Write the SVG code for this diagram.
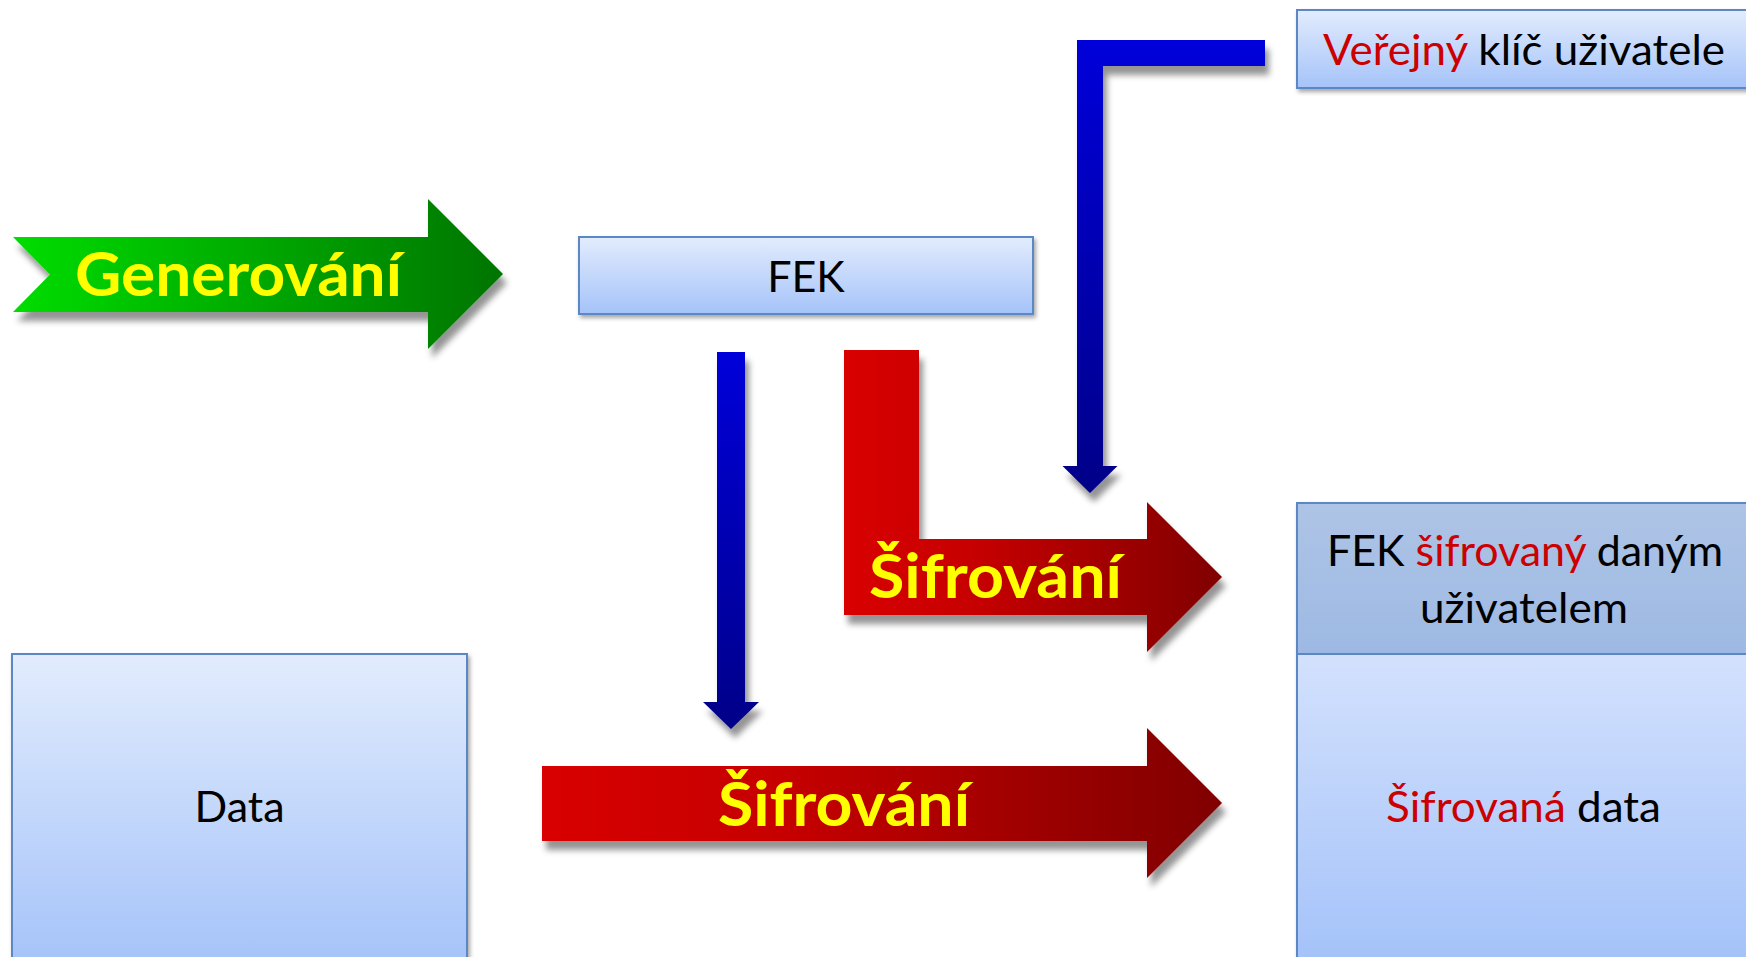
<svg xmlns="http://www.w3.org/2000/svg" width="1746" height="957" viewBox="0 0 1746 957">
<style>
.box{stroke:#5B87C5;stroke-width:2}
.t{font-family:Lato,"Open Sans","Liberation Sans",sans-serif;font-size:43px;fill:#000}
.r{fill:#CC0000}
.b{font-family:Lato,"Open Sans","Liberation Sans",sans-serif;font-weight:bold;font-size:61px;fill:#FFFF00}
</style>
<defs>
<linearGradient id="gBox" x1="0" y1="0" x2="0" y2="1"><stop offset="0" stop-color="#E2ECFD"/><stop offset="1" stop-color="#A5C3F9"/></linearGradient>
<linearGradient id="gLow" x1="0" y1="0" x2="0" y2="1"><stop offset="0" stop-color="#D3E1FD"/><stop offset="1" stop-color="#A4C2F9"/></linearGradient>
<linearGradient id="gHead" x1="0" y1="0" x2="0" y2="1"><stop offset="0" stop-color="#AEC4E6"/><stop offset="1" stop-color="#9DB9E3"/></linearGradient>
<linearGradient id="gGreen" x1="0" y1="0" x2="1" y2="0"><stop offset="0" stop-color="#00DD00"/><stop offset="1" stop-color="#007400"/></linearGradient>
<linearGradient id="gRed" x1="0" y1="0" x2="1" y2="0"><stop offset="0" stop-color="#D90000"/><stop offset="0.35" stop-color="#C60000"/><stop offset="1" stop-color="#800000"/></linearGradient>
<linearGradient id="gBlue" x1="0" y1="0" x2="0" y2="1"><stop offset="0" stop-color="#0000DA"/><stop offset="1" stop-color="#000088"/></linearGradient>
<filter id="sh" x="-10%" y="-10%" width="130%" height="140%">
<feDropShadow dx="4" dy="9" stdDeviation="3" flood-color="#000" flood-opacity="0.42"/>
</filter>
<filter id="bsh" x="-5%" y="-5%" width="115%" height="120%">
<feDropShadow dx="2" dy="3" stdDeviation="2" flood-color="#000" flood-opacity="0.35"/>
</filter>
</defs>
<rect width="1746" height="957" fill="#fff"/>

<g id="connectors">
<g id="arrow-generovani">
<path d="M13,237 H428 V199 L503,274 L428,349 V312 H13 L50,274.5 Z" fill="url(#gGreen)" filter="url(#sh)"/>
<text class="b" x="75" y="296" textLength="327" lengthAdjust="spacingAndGlyphs">Generování</text>
</g>
<g id="arrow-fek-down">
<path d="M717,352 H745 V702 H759 L731,729 L703,702 H717 Z" fill="url(#gBlue)" filter="url(#sh)"/>
</g>
<g id="arrow-key-down">
<path d="M1077,40 H1265 V66 H1103 V466 H1117.5 L1090,493 L1062.5,466 H1077 Z" fill="url(#gBlue)" filter="url(#sh)"/>
</g>
<g id="arrow-sifrovani-top">
<path d="M844,350 H919 V539 H1147 V502 L1222,577 L1147,652 V615 H844 Z" fill="url(#gRed)" filter="url(#sh)"/>
<text class="b" x="869" y="598" textLength="253" lengthAdjust="spacingAndGlyphs">Šifrování</text>
</g>
<g id="arrow-sifrovani-bottom">
<path d="M542,766 H1147 V728 L1222,803 L1147,878 V841 H542 Z" fill="url(#gRed)" filter="url(#sh)"/>
<text class="b" x="718" y="826" textLength="252" lengthAdjust="spacingAndGlyphs">Šifrování</text>
</g>
</g>

<g id="node-fek">
<rect class="box" x="579" y="237" width="454" height="77" fill="url(#gBox)" filter="url(#bsh)"/>
<text class="t" x="806" y="292" text-anchor="middle">FEK</text>
</g>

<g id="node-verejny">
<rect class="box" x="1297" y="10" width="455" height="78" fill="url(#gBox)" filter="url(#bsh)"/>
<text class="t" x="1323" y="65" textLength="402" lengthAdjust="spacingAndGlyphs"><tspan class="r">Veřejný</tspan> klíč uživatele</text>
</g>

<g id="node-data">
<rect class="box" x="12" y="654" width="455" height="310" fill="url(#gBox)" filter="url(#bsh)"/>
<text class="t" x="239.5" y="822" text-anchor="middle">Data</text>
</g>

<g id="node-vysledek">
<g filter="url(#bsh)">
<rect class="box" x="1297" y="503" width="455" height="151" fill="url(#gHead)"/>
<rect class="box" x="1297" y="654" width="455" height="310" fill="url(#gLow)"/>
</g>
<text class="t" x="1327" y="566" textLength="396" lengthAdjust="spacingAndGlyphs">FEK <tspan class="r">šifrovaný</tspan> daným</text>
<text class="t" x="1420" y="623" textLength="208" lengthAdjust="spacingAndGlyphs">uživatelem</text>
<text class="t" x="1386" y="822" textLength="275" lengthAdjust="spacingAndGlyphs"><tspan class="r">Šifrovaná</tspan> data</text>
</g>
</svg>
